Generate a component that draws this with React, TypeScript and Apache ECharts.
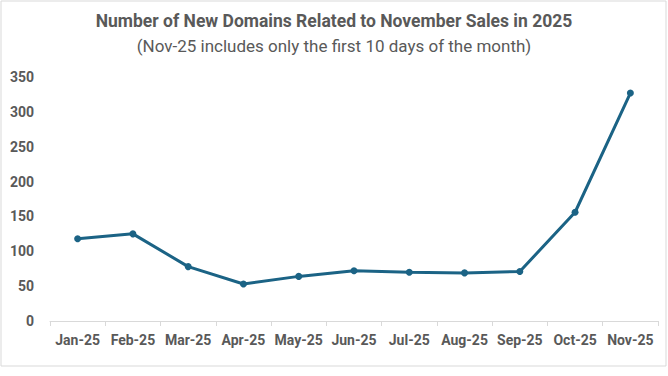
import React, { useEffect, useRef } from "react";
import * as echarts from "echarts";

const categories = ["Jan-25", "Feb-25", "Mar-25", "Apr-25", "May-25", "Jun-25", "Jul-25", "Aug-25", "Sep-25", "Oct-25", "Nov-25"];
const newDomains = [118, 125, 78, 53, 64, 72, 70, 69, 71, 156, 327];
const yTicks = { min: 0, max: 350, interval: 50 };
const titleText = "Number of New Domains Related to November Sales in 2025";
const subtitleText = "(Nov-25 includes only the first 10 days of the month)";

export default function App() {
  const ref = useRef<HTMLDivElement>(null);
  useEffect(() => {
    if (!ref.current) return;
    const chart = echarts.init(ref.current, null, { renderer: "svg" });
    chart.setOption({
      animation: false,
      backgroundColor: "#ffffff",
      textStyle: { fontFamily: "Roboto" },
      title: {
        text: titleText,
        subtext: subtitleText,
        left: "center",
        top: 7,
        itemGap: 7,
        textStyle: { fontFamily: "Roboto", fontSize: 17.5, fontWeight: "bold", color: "#595959" },
        subtextStyle: { fontFamily: "Roboto", fontSize: 17, color: "#595959" },
      },
      graphic: [
        {
          type: "rect",
          shape: { x: 1, y: 1, width: 665, height: 365 },
          style: { fill: "none", stroke: "#d9d9d9", lineWidth: 1 },
          silent: true,
        },
      ],
      grid: { left: 50, right: 10, top: 77, bottom: 55 },
      xAxis: {
        type: "category",
        data: categories,
        boundaryGap: true,
        axisLine: { lineStyle: { color: "#d9d9d9", width: 1 } },
        axisTick: { show: true, length: 5, lineStyle: { color: "#d9d9d9" } },
        axisLabel: { color: "#595959", fontSize: 14, fontWeight: "bold", margin: 12, interval: 0 },
      },
      yAxis: {
        type: "value",
        min: yTicks.min,
        max: yTicks.max,
        interval: yTicks.interval,
        axisLine: { show: false },
        axisTick: { show: false },
        splitLine: { show: false },
        axisLabel: { color: "#595959", fontSize: 14, fontWeight: "bold", margin: 16 },
      },
      series: [
        {
          type: "line",
          data: newDomains,
          symbol: "circle",
          symbolSize: 7,
          lineStyle: { color: "#1b6385", width: 3 },
          itemStyle: { color: "#1b6385" },
        },
      ],
    });
    return () => chart.dispose();
  }, []);
  return <div ref={ref} style={{ position: "fixed", left: 0, top: 0, width: 668, height: 376 }} />;
}
